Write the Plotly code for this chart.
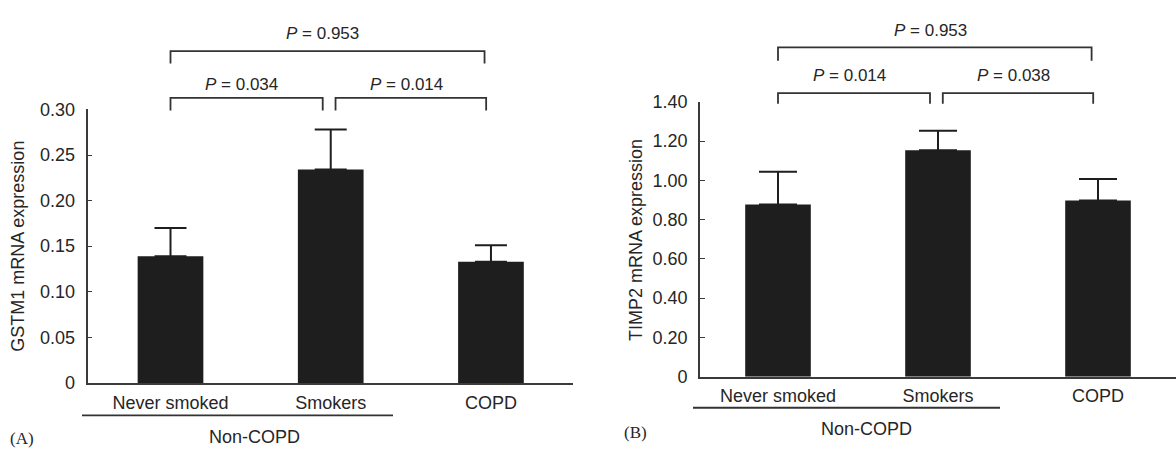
import plotly.graph_objects as go

W, H = 1176, 456

# ---------------- data ----------------
categories = ["Never smoked", "Smokers", "COPD"]
gstm1_mean = [0.139, 0.234, 0.133]
gstm1_err = [0.031, 0.044, 0.018]
timp2_mean = [0.877, 1.153, 0.897]
timp2_err = [0.167, 0.100, 0.110]

gstm1_tickvals = [0, 0.05, 0.10, 0.15, 0.20, 0.25, 0.30]
gstm1_ticktext = ["0", "0.05", "0.10", "0.15", "0.20", "0.25", "0.30"]
timp2_tickvals = [0, 0.20, 0.40, 0.60, 0.80, 1.00, 1.20, 1.40]
timp2_ticktext = ["0", "0.20", "0.40", "0.60", "0.80", "1.00", "1.20", "1.40"]

comparisons = [(0, 1), (1, 2), (0, 2)]
gstm1_pvalues = ["0.034", "0.014", "0.953"]
timp2_pvalues = ["0.014", "0.038", "0.953"]

group_label = "Non-COPD"
ytitle_a = "GSTM1 mRNA expression"
ytitle_b = "TIMP2 mRNA expression"

# ---------------- helpers ----------------
def px(x):
    return x / W

def py(y):
    return 1 - y / H

FONT = "Liberation Sans, Arial, Helvetica, sans-serif"
TXT = "#262626"
AX = "#3a3a3a"
BAR = "#1e1e1e"
FS = 18

panels = [
    dict(mean=gstm1_mean, err=gstm1_err, tv=gstm1_tickvals, tt=gstm1_ticktext,
         pv=gstm1_pvalues, xd=(87.5, 573), xr=(-0.518, 2.512), yd=(104, 390),
         yr=(0, 0.30), cap=16, title=ytitle_a, title_xy=(18.5, 247), xstand=3,
         br_top=43, br_top_drop=13, br_low=92, br_low_drop=13,
         txt_top=25, txt_low=77.5,
         grp_line=(82, 393, 424), grp_txt=(254, 447), tag="(A)", tag_xy=(22, 448)),
    dict(mean=timp2_mean, err=timp2_err, tv=timp2_tickvals, tt=timp2_ticktext,
         pv=timp2_pvalues, xd=(700, 1176), xr=(-0.4875, 2.4875), yd=(96, 383.5),
         yr=(0, 1.40), cap=19, title=ytitle_b, title_xy=(636.5, 240), xstand=2,
         br_top=39, br_top_drop=14, br_low=87, br_low_drop=11,
         txt_top=21, txt_low=69,
         grp_line=(693, 1000, 416), grp_txt=(866.5, 438), tag="(B)", tag_xy=(635, 442)),
]

# offsets (data units) of bracket ends relative to the bar centres
bracket_offsets = {(0, 1): (0.0, 0.05), (1, 2): (0.03, 0.03), (0, 2): (0.0, 0.04)}

fig = go.Figure()
shapes = []
annotations = []
xpos = list(range(len(categories)))

for k, p in enumerate(panels):
    sfx = "" if k == 0 else str(k + 1)
    xa, ya = "x" + sfx, "y" + sfx
    fig.add_trace(go.Bar(
        x=xpos, y=p["mean"], xaxis=xa, yaxis=ya, width=0.41,
        marker=dict(color=BAR, line=dict(width=0)),
        error_y=dict(type="data", symmetric=False, array=p["err"],
                     arrayminus=[0] * len(p["err"]), color=BAR,
                     thickness=2, width=p["cap"]),
        showlegend=False, hoverinfo="skip",
    ))
    common_font = dict(family=FONT, size=FS, color=TXT)
    fig.update_layout(**{
        "xaxis" + sfx: dict(domain=[px(p["xd"][0]), px(p["xd"][1])], range=list(p["xr"]),
                            anchor=ya, showline=True, linecolor=AX, linewidth=1.6,
                            tickvals=xpos, ticktext=categories, ticks="",
                            ticklabelstandoff=p["xstand"],
                            showgrid=False, zeroline=False, tickfont=common_font,
                            fixedrange=True),
        "yaxis" + sfx: dict(domain=[py(p["yd"][1]), py(p["yd"][0])], range=list(p["yr"]),
                            anchor=xa, showline=True, linecolor=AX, linewidth=1.6,
                            tickvals=p["tv"], ticktext=p["tt"], ticks="inside",
                            ticklen=5, tickwidth=1.4, tickcolor=AX,
                            ticklabelstandoff=7,
                            showgrid=False, zeroline=False, tickfont=common_font,
                            fixedrange=True),
    })

    # significance brackets
    for (i, j), pval in zip(comparisons, p["pv"]):
        dl, dr = bracket_offsets[(i, j)]
        x0, x1 = xpos[i] + dl, xpos[j] - dr
        top = (i, j) == (0, 2)
        yb = p["br_top"] if top else p["br_low"]
        drop = p["br_top_drop"] if top else p["br_low_drop"]
        shapes.append(dict(
            type="path", xref=xa, yref="paper",
            path=f"M {x0},{py(yb + drop)} L {x0},{py(yb)} L {x1},{py(yb)} L {x1},{py(yb + drop)}",
            line=dict(color="#333333", width=1.8),
        ))
        annotations.append(dict(
            x=(x0 + x1) / 2 - 0.03, y=py(p["txt_top"] if top else p["txt_low"]),
            xref=xa, yref="paper", text=f"<i>P</i> = {pval}", showarrow=False,
            xanchor="center", yanchor="middle",
            font=dict(family=FONT, size=17, color=TXT),
        ))

    # group underline + label
    gx0, gx1, gy = p["grp_line"]
    shapes.append(dict(type="line", xref="paper", yref="paper",
                       x0=px(gx0), x1=px(gx1), y0=py(gy), y1=py(gy),
                       line=dict(color="#333333", width=1.8)))
    annotations.append(dict(x=px(p["grp_txt"][0]), y=py(p["grp_txt"][1]), xref="paper",
                            yref="paper", text=group_label, showarrow=False,
                            xanchor="center", yanchor="middle",
                            font=dict(family=FONT, size=FS, color=TXT)))
    # y axis title
    annotations.append(dict(x=px(p["title_xy"][0]), y=py(p["title_xy"][1]), xref="paper",
                            yref="paper", text=p["title"], textangle=-90, showarrow=False,
                            xanchor="center", yanchor="middle",
                            font=dict(family=FONT, size=FS, color=TXT)))
    # panel tag
    annotations.append(dict(x=px(p["tag_xy"][0]), y=py(p["tag_xy"][1]), xref="paper",
                            yref="paper", text=p["tag"], showarrow=False,
                            xanchor="center", yanchor="middle",
                            font=dict(family="Liberation Serif, Times New Roman, serif",
                                      size=17, color=TXT)))

fig.update_layout(
    width=W, height=H, autosize=False,
    margin=dict(l=0, r=0, t=0, b=0),
    paper_bgcolor="white", plot_bgcolor="white",
    shapes=shapes, annotations=annotations,
    bargap=0.5,
)

fig.write_html("out.html", config={"displayModeBar": False})
